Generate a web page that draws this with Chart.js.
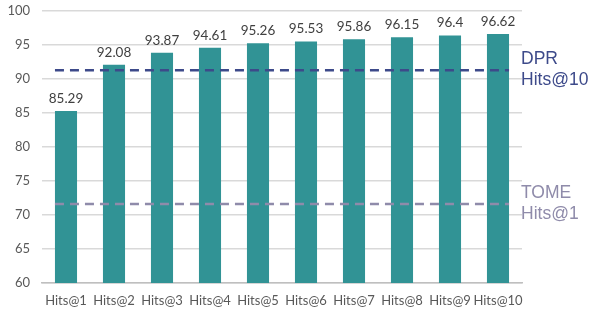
<!DOCTYPE html>
<html><head><meta charset="utf-8">
<script src="https://cdn.jsdelivr.net/npm/chart.js@4/dist/chart.umd.min.js"></script>
<style>html,body{margin:0;padding:0;background:#fff}#wrap{width:590px;height:314px}</style>
</head><body><div id="wrap"><canvas id="c" width="590" height="314"></canvas></div>
<script>
const categories = ["Hits@1","Hits@2","Hits@3","Hits@4","Hits@5","Hits@6","Hits@7","Hits@8","Hits@9","Hits@10"];
const values = [85.29,92.08,93.87,94.61,95.26,95.53,95.86,96.15,96.4,96.62];
const refLines = [
  {value: 91.3, label: ["DPR","Hits@10"], color: "#3D4A8A"},
  {value: 71.6, label: ["TOME","Hits@1"], color: "#8F8BAA"}
];
const yTicks = [60,65,70,75,80,85,90,95,100];

const refPlugin = {
  id: 'refs',
  afterDatasetsDraw(chart) {
    const ctx = chart.ctx, y = chart.scales.y;
    const meta = chart.getDatasetMeta(0);
    const first = meta.data[0], last = meta.data[meta.data.length-1];
    const x0 = first.x - first.width/2, x1 = last.x + last.width/2;
    ctx.save();
    ctx.font = "13.5px Lato";
    ctx.fillStyle = "#404040";
    ctx.textAlign = "center";
    ctx.textBaseline = "alphabetic";
    meta.data.forEach((b, i) => ctx.fillText(String(values[i]), b.x, b.y - 8));
    ctx.restore();
    refLines.forEach(r => {
      const py = y.getPixelForValue(r.value);
      ctx.save();
      ctx.strokeStyle = r.color;
      ctx.lineWidth = 2.5;
      ctx.setLineDash([9, 6]);
      ctx.beginPath(); ctx.moveTo(x0, py); ctx.lineTo(x1, py); ctx.stroke();
      ctx.setLineDash([]);
      ctx.fillStyle = r.color;
      ctx.font = "17.5px 'Liberation Sans'";
      ctx.textAlign = "left";
      ctx.textBaseline = "middle";
      ctx.fillText(r.label[0], chart.chartArea.right - 1, py - 11);
      ctx.fillText(r.label[1], chart.chartArea.right - 1, py + 10);
      ctx.restore();
    });
  }
};

new Chart(document.getElementById('c'), {
  type: 'bar',
  data: { labels: categories, datasets: [{ data: values, backgroundColor: "#319395", borderWidth: 0, barPercentage: 0.46, categoryPercentage: 1 }] },
  options: {
    responsive: false, animation: false,
    layout: { padding: { left: 0, right: 68, top: 11, bottom: 0 } },
    plugins: { legend: { display: false }, tooltip: { enabled: false } },
    scales: {
      x: {
        afterFit: (s) => { s.height = 31; s.paddingTop = 0; s.paddingBottom = 0; },
        grid: { display: false, drawTicks: false },
        border: { color: "#BFBFBF", width: 1.5 },
        ticks: { color: "#595959", font: { family: "Lato", size: 13 }, padding: 10, maxRotation: 0, autoSkip: false }
      },
      y: {
        min: 60, max: 100,
        afterBuildTicks: (s) => { s.ticks = yTicks.map(v => ({value: v})); },
        afterFit: (s) => { s.width = 42; s.paddingTop = 0; s.paddingBottom = 0; },
        grid: { color: "#D9D9D9", lineWidth: 1.5, drawTicks: false },
        border: { display: false },
        ticks: { color: "#595959", font: { family: "Lato", size: 13 }, padding: 12 }
      }
    }
  },
  plugins: [refPlugin]
});
</script></body></html>
